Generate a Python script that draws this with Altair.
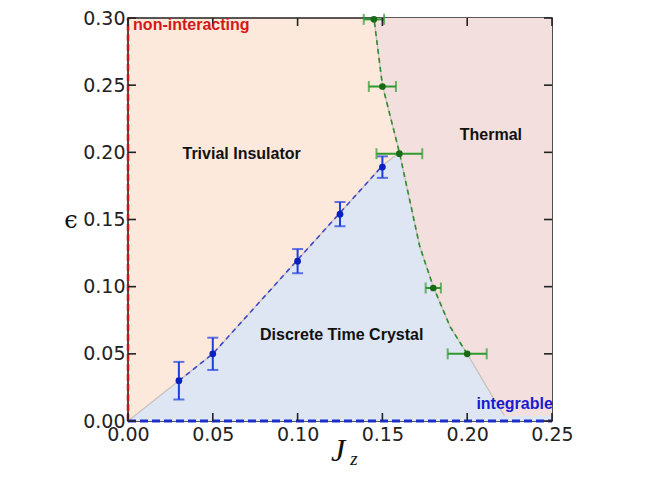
import altair as alt
import pandas as pd

# ---- values ----
blue_jz = [0.03, 0.05, 0.10, 0.125, 0.15]
blue_eps = [0.030, 0.050, 0.119, 0.154, 0.189]
blue_err = [0.014, 0.012, 0.009, 0.009, 0.008]

green_jz = [0.145, 0.150, 0.160, 0.180, 0.200]
green_eps = [0.299, 0.249, 0.199, 0.099, 0.050]
green_err = [0.006, 0.008, 0.0135, 0.0045, 0.0115]

# DTC / trivial boundary (blue dashed fit) and full region edge
blue_fit_jz = [0.03, 0.05, 0.10, 0.125, 0.15]
blue_fit_eps = [0.030, 0.050, 0.120, 0.155, 0.190]
dtc_edge_jz = [0.0, 0.03, 0.05, 0.10, 0.125, 0.15, 0.16, 0.25]
dtc_edge_eps = [0.0, 0.030, 0.050, 0.120, 0.155, 0.190, 0.200, 0.200]

# thermal boundary (green dashed fit) and its continuation
green_fit_jz = [0.145, 0.150, 0.160, 0.166, 0.172, 0.180, 0.190, 0.200]
green_fit_eps = [0.300, 0.250, 0.200, 0.165, 0.130, 0.100, 0.070, 0.050]
thermal_edge_jz = green_fit_jz + [0.215, 0.222]
thermal_edge_eps = green_fit_eps + [0.018, 0.004]

x_ticks = [0.0, 0.05, 0.10, 0.15, 0.20, 0.25]
y_ticks = [0.0, 0.05, 0.10, 0.15, 0.20, 0.25, 0.30]

region_labels = ["Trivial Insulator", "Thermal", "Discrete Time Crystal"]
region_jz = [0.067, 0.214, 0.126]
region_eps = [0.199, 0.213, 0.064]

W, H = 424, 403
xs = alt.Scale(domain=[0, 0.25], nice=False)
ys = alt.Scale(domain=[0, 0.30], nice=False)
xaxis = alt.Axis(values=x_ticks, format=".2f", ticks=False, domain=False, grid=False,
                 labelFont="DejaVu Sans", labelFontSize=19, labelColor="#222",
                 labelPadding=4, labelFlush=False, labelOverlap=False, title=None)
yaxis = alt.Axis(values=y_ticks, format=".2f", ticks=False, domain=False, grid=False,
                 labelFont="DejaVu Sans", labelFontSize=19, labelColor="#222",
                 labelPadding=3, labelFlush=False, labelOverlap=False, title=None)

blue = pd.DataFrame({"jz": blue_jz, "eps": blue_eps, "err": blue_err})
blue["lo"] = blue.eps - blue.err
blue["hi"] = blue.eps + blue.err
green = pd.DataFrame({"jz": green_jz, "eps": green_eps, "err": green_err})
green["lo"] = green.jz - green.err
green["hi"] = green.jz + green.err

dtc = pd.DataFrame({"jz": dtc_edge_jz, "eps": dtc_edge_eps})
thermal = pd.DataFrame({"jz": thermal_edge_jz, "eps": thermal_edge_eps})
bfit = pd.DataFrame({"jz": blue_fit_jz, "eps": blue_fit_eps})
gfit = pd.DataFrame({"jz": green_fit_jz, "eps": green_fit_eps})
regions = pd.DataFrame({"jz": region_jz, "eps": region_eps, "t": region_labels})
xt = pd.DataFrame({"jz": x_ticks})
yt = pd.DataFrame({"eps": y_ticks})


def X(f="jz"):
    return alt.X(f"{f}:Q", scale=xs, axis=xaxis)


def Y(f="eps"):
    return alt.Y(f"{f}:Q", scale=ys, axis=yaxis)


dtc_area = alt.Chart(dtc).mark_area(color="#DDE6F2", opacity=1).encode(
    x=X(), y=Y(), y2=alt.datum(0))
thermal_area = alt.Chart(thermal).mark_area(color="#F3DFDD", opacity=1, orient="horizontal").encode(
    y=Y(), x=X(), x2=alt.datum(0.25))

edge1 = alt.Chart(dtc[dtc.jz <= 0.16]).mark_line(color="#C8C0BC", strokeWidth=1.2).encode(x=X(), y=Y())
edge2 = alt.Chart(thermal).mark_line(color="#C8C0BC", strokeWidth=1.2).encode(
    x=X(), y=Y(), order="eps:Q")

bline = alt.Chart(bfit).mark_line(color="#4048C8", strokeWidth=1.6, strokeDash=[5, 4]).encode(x=X(), y=Y())
gline = alt.Chart(gfit).mark_line(color="#2E8B2E", strokeWidth=1.6, strokeDash=[5, 4]).encode(
    x=X(), y=Y(), order="eps:Q")

berr = alt.Chart(blue).mark_rule(color="#1E3FE0", strokeWidth=2).encode(x=X(), y=Y("lo"), y2="hi:Q")
bcap_lo = alt.Chart(blue).mark_tick(color="#1E3FE0", orient="horizontal", size=11, thickness=2).encode(x=X(), y=Y("lo"))
bcap_hi = alt.Chart(blue).mark_tick(color="#1E3FE0", orient="horizontal", size=11, thickness=2).encode(x=X(), y=Y("hi"))
bpts = alt.Chart(blue).mark_circle(color="#0A1FC0", size=45, opacity=1).encode(x=X(), y=Y())

gerr = alt.Chart(green).mark_rule(color="#2E9A2E", strokeWidth=2).encode(x=X("lo"), x2="hi:Q", y=Y())
gcap_lo = alt.Chart(green).mark_tick(color="#2E9A2E", orient="vertical", size=11, thickness=2).encode(x=X("lo"), y=Y())
gcap_hi = alt.Chart(green).mark_tick(color="#2E9A2E", orient="vertical", size=11, thickness=2).encode(x=X("hi"), y=Y())
gpts = alt.Chart(green).mark_circle(color="#176B17", size=45, opacity=1).encode(x=X(), y=Y())

red_v = alt.Chart(pd.DataFrame({"jz": [0.0], "a": [0.0], "b": [0.30]})).mark_rule(
    color="#C81414", strokeWidth=2.5, strokeDash=[7, 3]).encode(x=X(), y=Y("a"), y2="b:Q")
blue_h = alt.Chart(pd.DataFrame({"eps": [0.0], "a": [0.0], "b": [0.25]})).mark_rule(
    color="#1A2FC8", strokeWidth=3, strokeDash=[8, 4]).encode(y=Y(), x=X("a"), x2="b:Q")

# inward ticks on all four sides
tb = alt.Chart(xt).mark_rule(color="#222", strokeWidth=1.6).encode(
    x=X(), y=alt.value(H), y2=alt.value(H - 8))
tt = alt.Chart(xt).mark_rule(color="#222", strokeWidth=1.6).encode(
    x=X(), y=alt.value(0), y2=alt.value(8))
tl = alt.Chart(yt).mark_rule(color="#222", strokeWidth=1.6).encode(
    y=Y(), x=alt.value(0), x2=alt.value(8))
tr = alt.Chart(yt).mark_rule(color="#222", strokeWidth=1.6).encode(
    y=Y(), x=alt.value(W), x2=alt.value(W - 8))

rlab = alt.Chart(regions).mark_text(font="Liberation Sans", fontWeight="bold", fontSize=16,
                                    color="#111").encode(x=X(), y=Y(), text="t:N")
nonint = alt.Chart(pd.DataFrame({"jz": [0.003], "eps": [0.295], "t": ["non-interacting"]})).mark_text(
    font="Liberation Sans", fontWeight="bold", fontSize=16, color="#D41818", align="left").encode(
    x=X(), y=Y(), text="t:N")
integ = alt.Chart(pd.DataFrame({"jz": [0.2505], "eps": [0.0127], "t": ["integrable"]})).mark_text(
    font="Liberation Sans", fontWeight="bold", fontSize=16, color="#1A1AD0", align="right").encode(
    x=X(), y=Y(), text="t:N")

eps_title = alt.Chart(pd.DataFrame({"t": ["ϵ"]})).mark_text(
    font="DejaVu Serif", fontSize=24, color="#111").encode(
    x=alt.value(-57), y=alt.value(203), text="t:N")
j_title = alt.Chart(pd.DataFrame({"t": ["J"]})).mark_text(
    font="Liberation Serif", fontStyle="italic", fontSize=32, color="#111",
    baseline="alphabetic").encode(x=alt.value(210), y=alt.value(443), text="t:N")
z_title = alt.Chart(pd.DataFrame({"t": ["z"]})).mark_text(
    font="Liberation Serif", fontStyle="italic", fontSize=19, color="#111",
    baseline="alphabetic").encode(x=alt.value(226), y=alt.value(447), text="t:N")

chart = alt.layer(
    dtc_area, thermal_area, edge1, edge2, bline, gline,
    berr, bcap_lo, bcap_hi, bpts, gerr, gcap_lo, gcap_hi, gpts,
    red_v, blue_h, tb, tt, tl, tr, rlab, nonint, integ, eps_title, j_title, z_title,
).properties(
    width=W, height=H,
    autosize=alt.AutoSizeParams(type="none"),
    padding={"left": 120, "top": 10, "right": 40, "bottom": 50},
).configure_view(
    fill="#FCE9DC", stroke="#222", strokeWidth=1.6,
)

chart.save("out.html", embed_options={"renderer": "svg", "actions": False})
